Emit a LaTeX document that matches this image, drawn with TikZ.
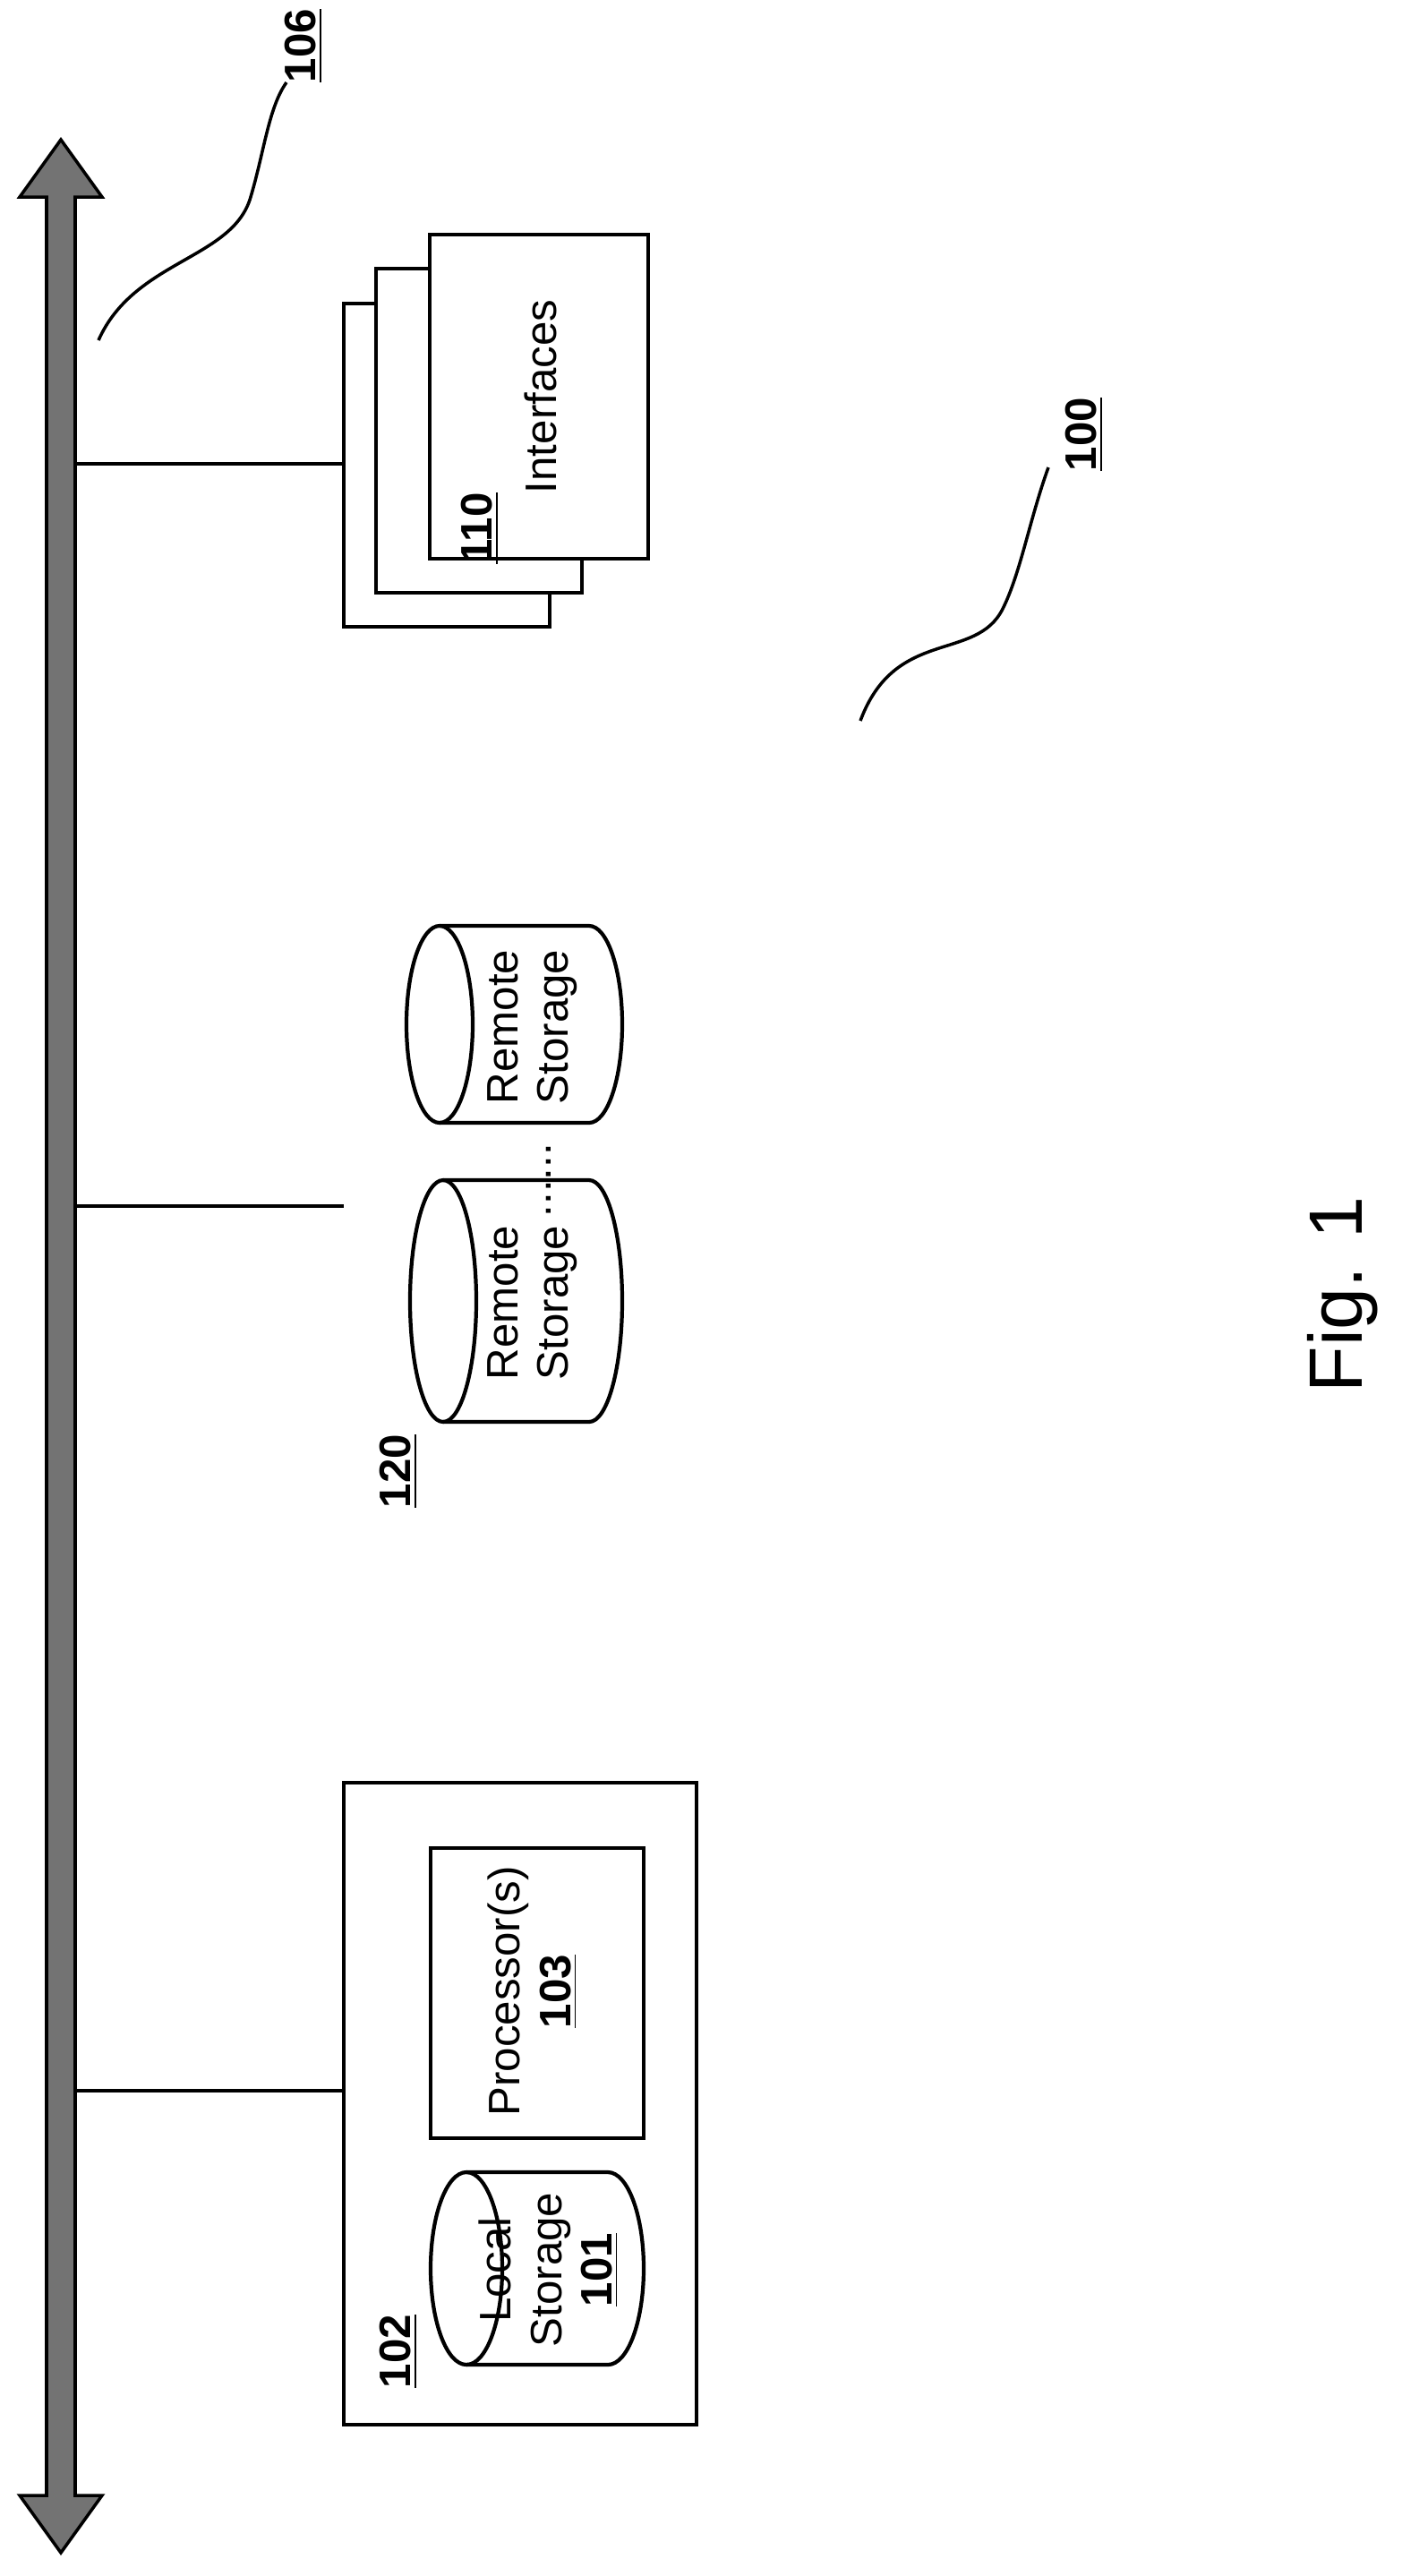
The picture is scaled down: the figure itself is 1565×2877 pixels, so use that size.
\documentclass[tikz,border=0pt]{standalone}
\usepackage{fontspec}
\setmainfont{Liberation Sans}
\usetikzlibrary{positioning,calc}
\tikzset{
  lbl/.style={rotate=90, font=\fontsize{14}{16}\selectfont, align=center},
  refnum/.style={rotate=90, font=\fontsize{14}{16}\selectfont\bfseries},
  outline/.style={draw, line width=1.2pt, fill=white}
}
% cylinder lying on its side: left, top, right, bottom, cap radius (pixels)
\newcommand{\drum}[5]{%
  \pgfmathsetmacro{\ry}{(#4-#2)/2}%
  \pgfmathsetmacro{\my}{-(#2+#4)/2}%
  \draw[line width=1.2pt, fill=white] (#1+#5,-#4) -- (#3-#5,-#4)
    arc[start angle=-90, end angle=90, x radius=#5*0.01cm, y radius=\ry*0.01cm]
    -- (#1+#5,-#2);
  \draw[line width=1.2pt] (#1+#5,\my) ellipse[x radius=#5*0.01cm, y radius=\ry*0.01cm];
}
\begin{document}
\begin{tikzpicture}[x=0.01cm, y=0.01cm]
    \useasboundingbox (0,0) rectangle (1565,-2877);
    % Bus
    \draw [line width=1pt, fill=black!55]
        (68,-156) -- (114,-220) -- (84,-220) -- (84,-2787) -- (114,-2787)
        -- (68,-2851) -- (22,-2787) -- (52,-2787) -- (52,-220) -- (22,-220) -- cycle;
    \coordinate (tapif) at (84,-518);
    \coordinate (taprs) at (84,-1347);
    \coordinate (tapcl) at (84,-2335);
    % Interfaces
    \draw [outline] (384,-339) rectangle (614,-700);
    \draw [outline] (420,-300) rectangle (650,-662);
    \draw [outline] (480,-262) rectangle (724,-624);
    \coordinate (ifin) at (384,-518);
    \node [lbl] (ifs) at (604,-443) {Interfaces};
    \node [refnum] (n110) at (536,-590) {\underline{110}};
    % Remote storage
    \drum{454}{1034}{695}{1254}{37}
    \drum{458}{1318}{695}{1588}{37}
    \node [lbl] (rs1) at (595,-1147) {Remote\\Storage};
    \node [lbl] (rs2) at (595,-1455) {Remote\\Storage};
    \node [lbl] (dots) at (613,-1318) {......};
    \coordinate (rsin) at (384,-1347);
    \node [refnum] (n120) at (445,-1643) {\underline{120}};
    % Computer
    \draw [outline] (384,-1991) rectangle (778,-2708);
    \draw [outline] (481,-2064) rectangle (719,-2388);
    \node [lbl] (proc) at (595,-2224) {Processor(s)\\\textbf{\underline{103}}};
    \drum{481}{2426}{719}{2641}{40}
    \node [lbl] (ls) at (613,-2535) {Local\\Storage\\\textbf{\underline{101}}};
    \node [refnum] (n102) at (445,-2626) {\underline{102}};
    \coordinate (clin) at (384,-2335);
    % Taps
    \draw [line width=1.2pt] (tapif) -- (ifin);
    \draw [line width=1.2pt] (taprs) -- (rsin);
    \draw [line width=1.2pt] (tapcl) -- (clin);
    % Lead lines
    \node [refnum] (n106) at (339,-51) {\underline{106}};
    \draw [line width=1pt] (110,-380) .. controls (150,-290) and (260,-290) .. (280,-220)
        .. controls (295,-170) and (300,-120) .. (320,-92);
    \node [refnum] (n100) at (1211,-485) {\underline{100}};
    \draw [line width=1pt] (961,-805) .. controls (1000,-700) and (1090,-740) .. (1120,-680)
        .. controls (1140,-640) and (1150,-580) .. (1171,-522);
    % Figure label
    \node [rotate=90, font=\fontsize{24}{28}\selectfont] (fig) at (1500,-1446) {Fig. 1};
\end{tikzpicture}
\end{document}
